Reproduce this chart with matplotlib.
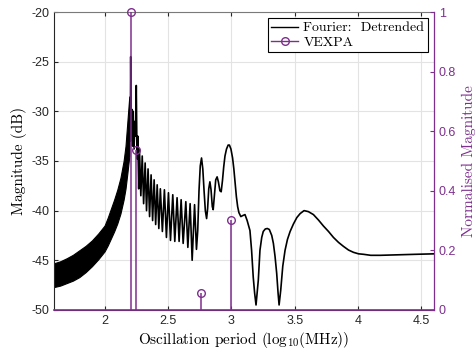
import matplotlib
matplotlib.use("Agg")
import matplotlib.pyplot as plt
from matplotlib.lines import Line2D

plt.rcParams['mathtext.fontset'] = 'cm'
plt.rcParams['font.family'] = ['Liberation Sans', 'DejaVu Sans']
plt.rcParams['axes.unicode_minus'] = False

PURPLE = '#7E2F8E'
AXC = '#262626'

# Dense oscillation band (envelope) on the left of the main peak
band_x = [1.6, 1.65, 1.7, 1.75, 1.8, 1.85, 1.9, 1.95, 2.0, 2.025, 2.05, 2.075,
          2.1, 2.125, 2.15, 2.165, 2.18, 2.195]
band_top = [-45.3, -45.1, -44.8, -44.45, -44.0, -43.55, -43.0, -42.3, -41.5, -40.7,
            -39.8, -38.9, -37.9, -36.7, -35.0, -33.5, -31.0, -28.5]
band_bot = [-47.7, -47.55, -47.3, -47.05, -46.7, -46.2, -45.6, -44.9, -44.1, -43.5,
            -42.8, -42.1, -41.3, -40.3, -38.9, -37.8, -36.2, -34.5]

# Fourier magnitude curve (dB) from the main peak onwards
curve_x = [2.195, 2.200, 2.203, 2.206, 2.210, 2.215, 2.220, 2.226, 2.232, 2.240, 2.245,
           2.250, 2.256, 2.262, 2.269, 2.275, 2.286, 2.297, 2.308, 2.320, 2.331, 2.343,
           2.355, 2.367, 2.379, 2.391, 2.403, 2.415, 2.428, 2.440, 2.456, 2.472, 2.488,
           2.504, 2.520, 2.538, 2.554, 2.572, 2.588, 2.604, 2.620, 2.641, 2.657, 2.675,
           2.691, 2.710, 2.725, 2.735, 2.745, 2.755, 2.765, 2.775, 2.785, 2.795, 2.805,
           2.813, 2.822, 2.831, 2.840, 2.850, 2.857, 2.866, 2.877, 2.888, 2.898, 2.910,
           2.920, 2.930, 2.940, 2.950, 2.962, 2.975, 2.985, 2.997, 3.010, 3.020, 3.030,
           3.040, 3.050, 3.060, 3.075, 3.090, 3.108, 3.125, 3.147, 3.160, 3.173, 3.184,
           3.195, 3.204, 3.213, 3.226, 3.240, 3.252, 3.268, 3.284, 3.300, 3.319, 3.332,
           3.345, 3.358, 3.369, 3.377, 3.390, 3.406, 3.424, 3.443, 3.464, 3.490, 3.517,
           3.543, 3.574, 3.608, 3.648, 3.688, 3.727, 3.767, 3.806, 3.846, 3.885, 3.925,
           3.964, 4.004, 4.044, 4.100, 4.176, 4.300, 4.450, 4.603]
curve_y = [-34.5, -29.0, -33.0, -24.5, -32.5, -29.8, -33.5, -30.0, -33.8, -31.0, -32.5,
           -27.4, -34.8, -32.5, -37.8, -33.8, -38.5, -34.5, -39.3, -35.2, -40.0, -35.8,
           -40.6, -36.4, -41.0, -36.9, -41.4, -37.4, -41.8, -37.8, -42.1, -37.9, -42.7,
           -38.2, -43.0, -38.4, -43.1, -38.7, -43.1, -38.9, -43.3, -39.1, -43.7, -39.3,
           -45.0, -39.4, -43.9, -42.0, -38.0, -35.5, -34.7, -35.8, -38.0, -40.0, -40.8,
           -39.8, -37.8, -37.1, -37.9, -39.6, -39.9, -38.5, -36.9, -36.6, -37.1, -38.0,
           -38.1, -37.0, -35.6, -34.5, -33.8, -33.4, -33.4, -33.8, -34.7, -35.8, -37.2,
           -38.6, -39.6, -40.2, -40.6, -40.5, -40.4, -41.0, -42.0, -44.0, -46.7, -48.3,
           -49.5, -48.3, -47.0, -44.0, -42.7, -42.1, -41.85, -41.8, -41.9, -42.5, -43.3,
           -44.6, -46.3, -48.3, -49.5, -48.0, -45.6, -44.0, -42.9, -42.1, -41.35, -40.7,
           -40.3, -40.0, -40.1, -40.4, -40.95, -41.55, -42.1, -42.7, -43.2, -43.6, -43.97,
           -44.2, -44.35, -44.4, -44.5, -44.5, -44.45, -44.4, -44.35]

# VEXPA normalised magnitudes
vexpa_x = [2.206, 2.251, 2.757, 3.0]
vexpa_y = [1.0, 0.537, 0.056, 0.302]

xticks = [2, 2.5, 3, 3.5, 4, 4.5]
xticklabels = ['2', '2.5', '3', '3.5', '4', '4.5']
yticks = [-50, -45, -40, -35, -30, -25, -20]
yticklabels = ['-50', '-45', '-40', '-35', '-30', '-25', '-20']
y2ticks = [0, 0.2, 0.4, 0.6, 0.8, 1]
y2ticklabels = ['0', '0.2', '0.4', '0.6', '0.8', '1']

fig = plt.figure(figsize=(4.77, 3.53), dpi=100)
ax = fig.add_axes([0.113, 0.122, 0.797, 0.844])

ax.fill_between(band_x, band_bot, band_top, color='black', lw=0.8, edgecolor='black')
ax.plot(curve_x, curve_y, color='black', lw=1.2)

ax.set_xlim(1.6, 4.6)
ax.set_ylim(-50, -20)
ax.set_xticks(xticks)
ax.set_xticklabels(xticklabels)
ax.set_yticks(yticks)
ax.set_yticklabels(yticklabels)
ax.grid(True, color='#e3e3e3', lw=0.8)
ax.set_axisbelow(True)
ax.tick_params(direction='in', length=3, labelsize=9, colors=AXC, top=True)
for s in ['left', 'top', 'bottom']:
    ax.spines[s].set_color(AXC if s != 'top' else '#7a7a7a')
    ax.spines[s].set_linewidth(0.8)
ax.set_ylabel('Magnitude (dB)', family='cmr10', fontsize=11, color='black', labelpad=3)
ax.set_xlabel(r'Oscillation period (log$_{10}$(MHz))', family='cmr10', fontsize=11,
              color='black', labelpad=2)

ax2 = ax.twinx()
ml, sl, bl = ax2.stem(vexpa_x, vexpa_y, basefmt=' ')
plt.setp(sl, color=PURPLE, lw=1.1)
plt.setp(ml, color=PURPLE, markerfacecolor='none', markeredgecolor=PURPLE,
         markersize=5.5, markeredgewidth=1.0)
ax2.axhline(0, color=PURPLE, lw=1.2, clip_on=False)
ml.set_clip_on(False)
ax2.set_ylim(0, 1)
ax2.set_xlim(1.6, 4.6)
ax2.set_yticks(y2ticks)
ax2.set_yticklabels(y2ticklabels)
ax2.tick_params(axis='y', direction='in', length=3, labelsize=9, colors=PURPLE)
ax2.spines['right'].set_color(PURPLE)
ax2.spines['right'].set_linewidth(0.8)
ax2.spines['left'].set_visible(False)
ax2.spines['top'].set_visible(False)
ax2.spines['bottom'].set_visible(False)
ax2.set_ylabel('Normalised Magnitude', family='cmr10', fontsize=11, color=PURPLE, labelpad=4)

handles = [Line2D([], [], color='black', lw=1.0),
           Line2D([], [], color=PURPLE, lw=1.0, marker='o', markerfacecolor='none',
                  markersize=5.5)]
leg = ax2.legend(handles, ['Fourier:  Detrended', 'VEXPA'], loc='upper right',
                 prop={'family': 'cmr10', 'size': 10}, frameon=True, fancybox=False,
                 framealpha=1, edgecolor='black', borderpad=0.25, labelspacing=0.1,
                 handlelength=1.9, handletextpad=0.4, borderaxespad=0.45)
leg.get_frame().set_linewidth(0.8)

fig.savefig('out.png', dpi=100)
